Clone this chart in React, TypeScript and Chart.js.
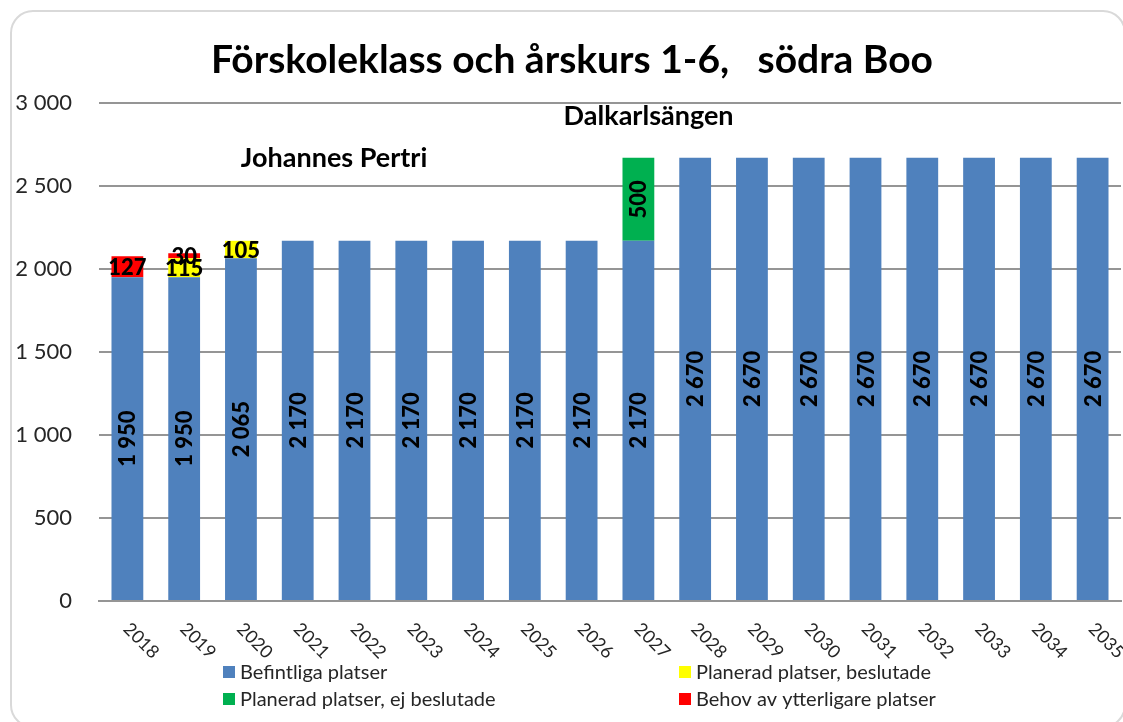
import React, { useEffect, useRef } from 'react';
import { Chart, registerables } from 'chart.js';

Chart.register(...registerables);

const years = ['2018', '2019', '2020', '2021', '2022', '2023', '2024', '2025', '2026', '2027', '2028', '2029', '2030', '2031', '2032', '2033', '2034', '2035'];
const befintliga = [1950, 1950, 2065, 2170, 2170, 2170, 2170, 2170, 2170, 2170, 2670, 2670, 2670, 2670, 2670, 2670, 2670, 2670];
const beslutade = [null, 115, 105, null, null, null, null, null, null, null, null, null, null, null, null, null, null, null];
const ejBeslutade = [null, null, null, null, null, null, null, null, null, 500, null, null, null, null, null, null, null, null];
const behov = [127, 30, null, null, null, null, null, null, null, null, null, null, null, null, null, null, null, null];
const seriesNames = ['Befintliga platser', 'Planerad platser, beslutade', 'Planerad platser, ej beslutade', 'Behov av ytterligare platser'];
const seriesColors = ['#4F81BD', '#FFFF00', '#00B050', '#FF0000'];
const chartTitle = 'Förskoleklass och årskurs 1-6,   södra Boo';
const noteTexts = ['Johannes Pertri', 'Dalkarlsängen'];

const FONT = 'Lato, "Liberation Sans", sans-serif';

const fmt = (v: number) => String(v).replace(/\B(?=(\d{3})+(?!\d))/g, ' ');

const decorPlugin = {
  id: 'decor',
  beforeDraw(chart: any) {
    const ctx = chart.ctx;
    ctx.save();
    ctx.fillStyle = '#ffffff';
    ctx.fillRect(0, 0, chart.width, chart.height);
    ctx.strokeStyle = '#d9d9d9';
    ctx.lineWidth = 2;
    ctx.beginPath();
    (ctx as any).roundRect(11, 11, 1114, 716, 22);
    ctx.stroke();
    ctx.restore();
  },
  afterDraw(chart: any) {
    const ctx = chart.ctx;
    const xs = chart.scales.x;
    const ys = chart.scales.y;
    ctx.save();
    // title
    ctx.fillStyle = '#000000';
    ctx.textAlign = 'center';
    ctx.textBaseline = 'middle';
    ctx.font = `bold 39px ${FONT}`;
    ctx.fillText(chartTitle, 572, 60);
    // notes
    ctx.font = `bold 27px ${FONT}`;
    ctx.fillText(noteTexts[0], xs.getPixelForValue(3.64), ys.getPixelForValue(2669));
    ctx.fillText(noteTexts[1], xs.getPixelForValue(9.18), ys.getPixelForValue(2922));
    // x tick labels rotated +45
    ctx.font = `18px ${FONT}`;
    ctx.fillStyle = '#262626';
    ctx.textAlign = 'left';
    ctx.textBaseline = 'middle';
    years.forEach((y, i) => {
      const px = xs.getPixelForValue(i);
      ctx.save();
      ctx.translate(px - 1, chart.chartArea.bottom + 25);
      ctx.rotate(Math.PI / 4);
      ctx.fillText(y, 0, 0);
      ctx.restore();
    });
    // legend
    const cols = [223, 679];
    const rows = [672, 699];
    ctx.font = `20px ${FONT}`;
    ctx.textBaseline = 'middle';
    chart.data.datasets.forEach((ds: any, i: number) => {
      const cx = cols[i % 2];
      const cy = rows[Math.floor(i / 2)];
      ctx.fillStyle = ds.backgroundColor;
      ctx.fillRect(cx, cy - 6, 12, 12);
      ctx.fillStyle = '#262626';
      ctx.fillText(ds.label, cx + 17, cy + 1);
    });
    ctx.restore();
  },
  afterDatasetsDraw(chart: any) {
    const ctx = chart.ctx;
    ctx.save();
    ctx.fillStyle = '#000000';
    ctx.font = `900 22px ${FONT}`;
    ctx.textAlign = 'center';
    ctx.textBaseline = 'middle';
    chart.data.datasets.forEach((ds: any, i: number) => {
      const meta = chart.getDatasetMeta(i);
      meta.data.forEach((el: any, j: number) => {
        const v = ds.data[j];
        if (v == null) return;
        const p = el.getProps(['x', 'y', 'base'], true);
        const cy = (p.y + p.base) / 2;
        if (i === 0 || i === 2) {
          ctx.save();
          ctx.translate(p.x, cy);
          ctx.rotate(-Math.PI / 2);
          ctx.fillText(fmt(v), 0, 1);
          ctx.restore();
        } else {
          ctx.fillText(fmt(v), p.x, cy + 1);
        }
      });
    });
    ctx.restore();
  },
};

export default function App() {
  const ref = useRef<HTMLCanvasElement | null>(null);
  useEffect(() => {
    document.body.style.margin = '0';
    const canvas = ref.current!;
    const data = [befintliga, beslutade, ejBeslutade, behov];
    const chart = new Chart(canvas, {
      type: 'bar',
      data: {
        labels: years,
        datasets: data.map((d, i) => ({
          label: seriesNames[i],
          data: d as any,
          backgroundColor: seriesColors[i],
          borderWidth: 0,
          barPercentage: 0.56,
          categoryPercentage: 1,
        })),
      },
      options: {
        responsive: false,
        animation: false,
        layout: { padding: { top: 103, right: 2, left: 0, bottom: 0 } },
        plugins: { legend: { display: false }, title: { display: false }, tooltip: { enabled: false } },
        scales: {
          x: {
            stacked: true,
            grid: { display: false },
            border: { display: true, color: '#959595', width: 2 },
            ticks: { display: false },
            afterFit: (s: any) => { s.height = 121; },
          },
          y: {
            stacked: true,
            min: 0,
            max: 3000,
            ticks: {
              stepSize: 500,
              padding: 27,
              color: '#262626',
              font: { family: FONT, size: 22 },
              callback: (v: any) => fmt(Number(v)),
            },
            grid: { color: '#959595', lineWidth: 2, drawTicks: false },
            border: { display: false },
            afterFit: (s: any) => { s.width = 99; },
          },
        },
      },
      plugins: [decorPlugin],
    });
    return () => chart.destroy();
  }, []);
  return <canvas ref={ref} width={1123} height={722} style={{ display: 'block' }} />;
}
